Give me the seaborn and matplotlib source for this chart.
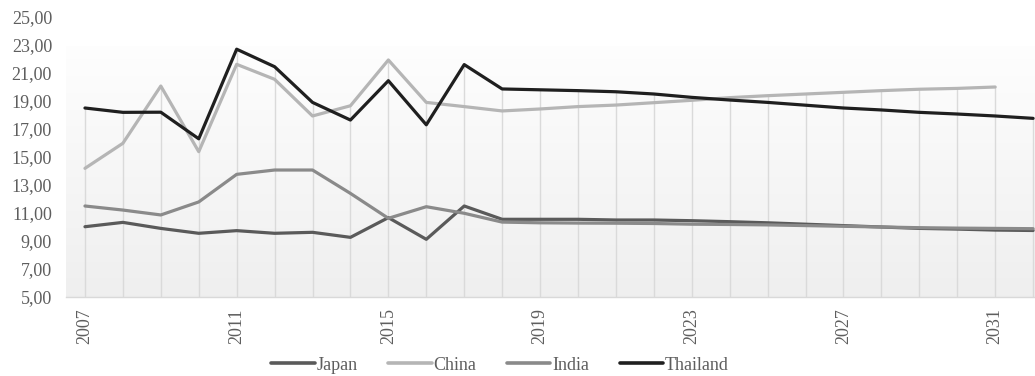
import numpy as np
import pandas as pd
import matplotlib
matplotlib.use("Agg")
import matplotlib.pyplot as plt
import seaborn as sns
from matplotlib.ticker import FixedLocator, FuncFormatter

years = list(range(2007, 2033))

japan = [10.02, 10.33, 9.90, 9.55, 9.74, 9.55, 9.62, 9.26, 10.67, 9.12, 11.50,
         10.55, 10.55, 10.55, 10.50, 10.50, 10.45, 10.38, 10.30, 10.20, 10.10,
         10.00, 9.90, 9.85, 9.78, 9.75]
china = [14.19, 15.98, 20.07, 15.38, 21.62, 20.55, 17.93, 18.66, 21.93, 18.90, 18.60,
         18.29, 18.43, 18.60, 18.71, 18.88, 19.05, 19.24, 19.38, 19.50, 19.62,
         19.74, 19.84, 19.90, 20.00, np.nan]
india = [11.50, 11.21, 10.86, 11.79, 13.76, 14.07, 14.07, 12.40, 10.62, 11.45, 10.98,
         10.35, 10.30, 10.28, 10.27, 10.25, 10.20, 10.18, 10.15, 10.10, 10.05,
         10.00, 9.95, 9.92, 9.90, 9.88]
thailand = [18.50, 18.19, 18.20, 16.30, 22.70, 21.45, 18.90, 17.64, 20.45, 17.30, 21.60,
            19.86, 19.80, 19.74, 19.66, 19.50, 19.26, 19.07, 18.90, 18.70, 18.50,
            18.36, 18.19, 18.07, 17.93, 17.76]

series = ["Japan", "China", "India", "Thailand"]
colors = ["#5a5a5a", "#b5b5b5", "#8a8a8a", "#1f1f1f"]

df = pd.DataFrame({"Year": years, "Japan": japan, "China": china,
                   "India": india, "Thailand": thailand})
long = df.melt(id_vars="Year", var_name="Country", value_name="Value").dropna()

sns.set_style("white")
plt.rcParams["font.family"] = ["Liberation Serif", "DejaVu Serif"]

fig = plt.figure(figsize=(10.35, 3.76), dpi=100)
ax = fig.add_axes([66 / 1035, (376 - 297) / 376, 969 / 1035, 280 / 376])

x0, x1 = 2006.5, 2032.05
y0, y1 = 5, 25
bg_top = 22.9

# soft vertical gradient behind the plot area
t = np.linspace(0.0, 1.0, 256).reshape(-1, 1, 1)
top = np.array([0.995, 0.995, 0.995])
bot = np.array([0.937, 0.937, 0.937])
img = top * (1 - t) + bot * t
ax.imshow(img, extent=[x0, x1, y0, bg_top], aspect="auto", zorder=0,
          origin="upper")

# drop lines from the highest series down to the axis at every year
peaks = df[series].max(axis=1)
ax.vlines(df["Year"], y0, peaks, color="#dadada", lw=1.0, zorder=1)

sns.lineplot(data=long, x="Year", y="Value", hue="Country", hue_order=series,
             palette=colors, linewidth=2.3, ax=ax, legend=False, zorder=3)

ax.set_xlim(x0, x1)
ax.set_ylim(y0, y1)
ax.set_xlabel("")
ax.set_ylabel("")

yticks = np.arange(5, 26, 2)
ax.set_yticks(yticks)
ax.yaxis.set_major_formatter(FuncFormatter(lambda v, p: f"{v:.2f}".replace(".", ",")))
ax.tick_params(axis="y", length=0, pad=10, labelsize=13, labelcolor="#5e5e5e")

xlabels = list(range(2007, 2033, 4))
ax.set_xticks(xlabels)
ax.set_xticklabels([str(v) for v in xlabels], rotation=90)
ax.tick_params(axis="x", which="major", length=0, pad=8, labelsize=13,
               labelcolor="#5e5e5e")
ax.xaxis.set_minor_locator(FixedLocator([2006.5, 2014.5, 2022.5, 2030.5]))
ax.tick_params(axis="x", which="minor", length=5, color="#d9d9d9", width=1)

for s in ["top", "right", "left"]:
    ax.spines[s].set_visible(False)
ax.spines["bottom"].set_color("#d9d9d9")
ax.spines["bottom"].set_linewidth(1.0)
ax.spines["bottom"].set_zorder(4)

handles = [plt.Line2D([], [], color=c, lw=2.6) for c in colors]
fig.legend(handles, series, loc="center", bbox_to_anchor=(0.483, 0.029), ncol=4,
           frameon=False, fontsize=13, handlelength=2.4, handletextpad=0.1,
           columnspacing=1.7, labelcolor="#5e5e5e")

fig.savefig("out.png", dpi=100)
